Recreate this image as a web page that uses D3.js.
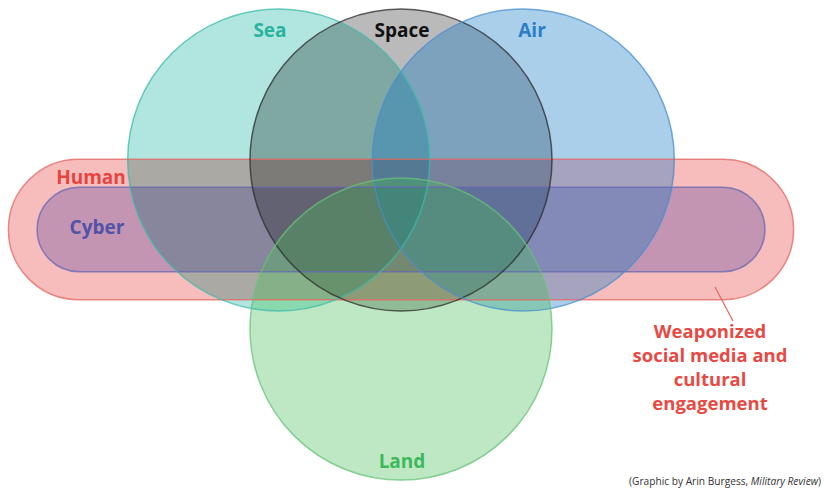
<!DOCTYPE html>
<html>
<head>
<meta charset="utf-8">
<script src="https://cdn.jsdelivr.net/npm/d3@7"></script>
<style>
  body { margin: 0; background: #fff; }
  svg { display: block; }
</style>
</head>
<body>
<div id="chart"></div>
<script>
// domains as circles (unit = one circle radius, origin = Space centre)
var circleNames = ["Sea", "Space", "Air", "Land"];
var circleCx = [-0.81, 0, 0.81, 0];
var circleCy = [0, 0, 0, 1.12];
var circleR = [1, 1, 1, 1];

// domains as bands running across the circles
var bandNames = ["Human", "Cyber"];
var bandX0 = [-2.6, -2.41];
var bandX1 = [2.6, 2.41];
var bandY0 = [-0.005, 0.18];
var bandY1 = [0.925, 0.74];

var noteLines = ["Weaponized", "social media and", "cultural", "engagement"];

var W = 824, H = 491;
var unit = 151;

var x = d3.scaleLinear().domain([0, 1]).range([401, 401 + unit]);
var y = d3.scaleLinear().domain([0, 1]).range([160, 160 + unit]);

// fill colour, opacity and blend per domain
var fills = { Sea: "#b0e6df", Space: "#bababa", Air: "#0c76c3", Land: "#45bd54", Human: "#ef7979", Cyber: "#8f70ac" };
var fillOp = { Sea: 1, Space: 1, Air: 0.35, Land: 0.35, Human: 0.5, Cyber: 0.5 };
var blend = { Sea: "multiply", Space: "multiply", Air: "normal", Land: "normal", Human: "normal", Cyber: "normal" };
var strokes = { Sea: "#3cb9a9", Space: "#2b2b2b", Air: "#4a8ecd", Land: "#68c27a", Human: "#e36660", Cyber: "#6467b2" };
var labelCol = { Sea: "#2bb3a0", Space: "#111", Air: "#2a7dc6", Land: "#3db85a", Human: "#e6453f", Cyber: "#5252a8" };

var svg = d3.select("#chart").append("svg")
    .attr("width", W)
    .attr("height", H);

var g = svg.append("g").style("isolation", "isolate");

var bands = bandNames.map(function(n, i) {
    return { name: n, x0: bandX0[i], x1: bandX1[i], y0: bandY0[i], y1: bandY1[i] };
});
var circles = circleNames.map(function(n, i) {
    return { name: n, cx: circleCx[i], cy: circleCy[i], r: circleR[i] };
});

function drawBands(sel, cls) {
    return sel.selectAll("." + cls)
        .data(bands)
        .enter().append("rect")
        .attr("class", cls)
        .attr("x", d => x(d.x0))
        .attr("y", d => y(d.y0))
        .attr("width", d => x(d.x1) - x(d.x0))
        .attr("height", d => y(d.y1) - y(d.y0))
        .attr("rx", d => (y(d.y1) - y(d.y0)) / 2);
}
function drawCircles(sel, cls) {
    return sel.selectAll("." + cls)
        .data(circles)
        .enter().append("circle")
        .attr("class", cls)
        .attr("cx", d => x(d.cx))
        .attr("cy", d => y(d.cy))
        .attr("r", d => x(d.r) - x(0));
}

// fills
[drawBands(g, "band"), drawCircles(g, "venn")].forEach(function(s) {
    s.attr("fill", d => fills[d.name])
        .attr("fill-opacity", d => fillOp[d.name])
        .style("mix-blend-mode", d => blend[d.name])
        .attr("stroke", "none");
});

// outlines on top
var outl = svg.append("g").attr("fill", "none").attr("stroke-width", 1.5);
[drawBands(outl, "band-o"), drawCircles(outl, "venn-o")].forEach(function(s) {
    s.attr("stroke", d => strokes[d.name])
        .attr("stroke-opacity", 0.75);
});

// labels
var font = "'Open Sans', 'Noto Sans', sans-serif";
var labelPos = {
    Sea: [270, 37], Space: [402, 37], Air: [532, 37], Land: [402, 468],
    Human: [91, 184], Cyber: [97, 234]
};
svg.selectAll(".lab")
    .data(circleNames.concat(bandNames))
    .enter().append("text")
    .attr("class", "lab")
    .attr("x", d => labelPos[d][0])
    .attr("y", d => labelPos[d][1])
    .attr("text-anchor", "middle")
    .attr("font-family", font)
    .attr("font-weight", "bold")
    .attr("font-size", 19)
    .attr("fill", d => labelCol[d])
    .text(d => d);

// annotation
svg.append("line")
    .attr("x1", 715).attr("y1", 287)
    .attr("x2", 733).attr("y2", 321)
    .attr("stroke", "#e36660")
    .attr("stroke-width", 1.2);

svg.selectAll(".note")
    .data(noteLines)
    .enter().append("text")
    .attr("class", "note")
    .attr("x", 710)
    .attr("y", (d, i) => 338 + i * 24)
    .attr("text-anchor", "middle")
    .attr("font-family", font)
    .attr("font-weight", "bold")
    .attr("font-size", 18.5)
    .attr("fill", "#e64a44")
    .text(d => d);

// credit
var cap = svg.append("text")
    .attr("x", 629)
    .attr("y", 485)
    .attr("font-family", font)
    .attr("font-size", 10)
    .attr("fill", "#333")
    .attr("textLength", 192)
    .attr("lengthAdjust", "spacingAndGlyphs");
cap.append("tspan").text("(Graphic by Arin Burgess, ");
cap.append("tspan").attr("font-style", "italic").text("Military Review");
cap.append("tspan").text(")");
</script>
</body>
</html>
